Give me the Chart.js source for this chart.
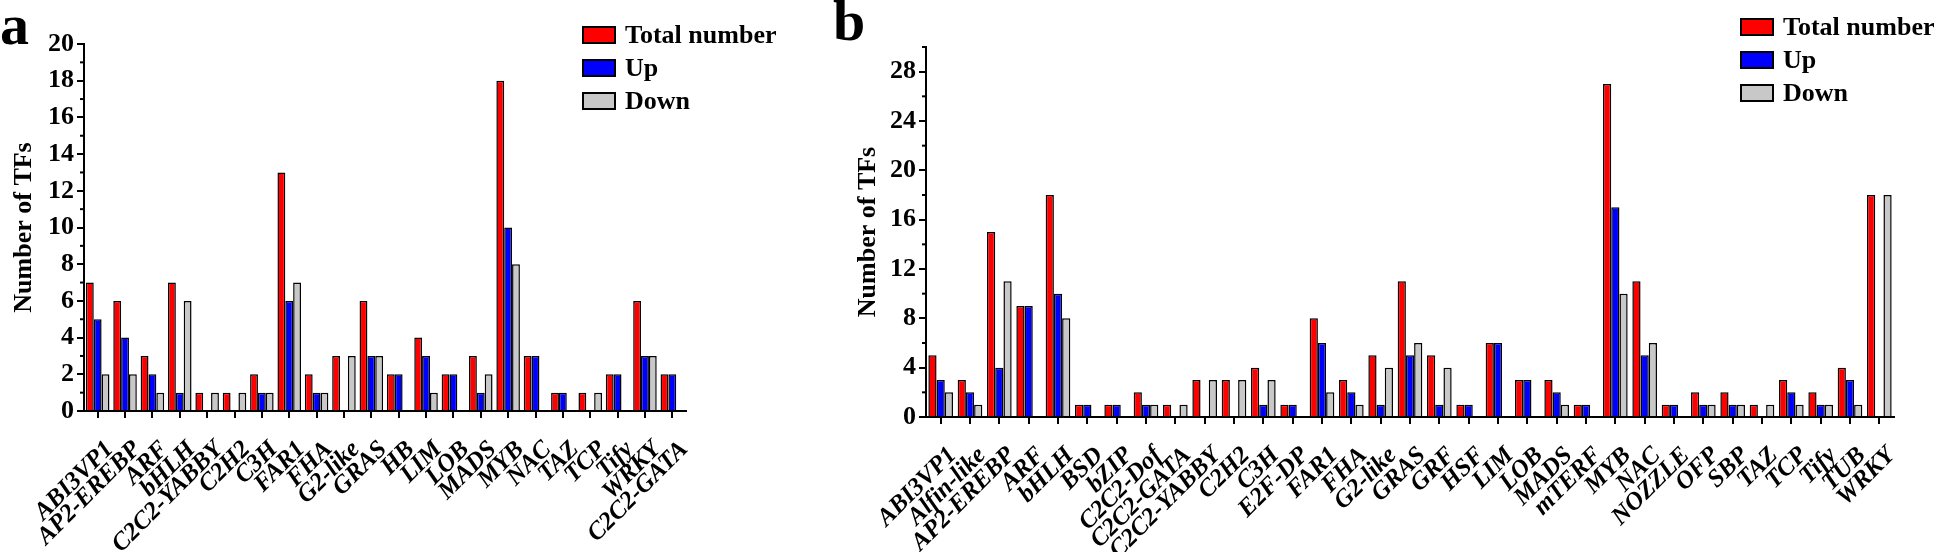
<!DOCTYPE html>
<html lang="en">
<head>
<meta charset="UTF-8">
<title>Differentially expressed TF families</title>
<script src="https://cdn.jsdelivr.net/npm/chart.js"></script>
<style>
  html, body { margin: 0; padding: 0; background: #fff; }
  body { width: 1946px; height: 552px; position: relative; overflow: hidden; font-family: "Liberation Serif", "Times New Roman", serif; }
  canvas { position: absolute; top: 0; }
  #chartA { left: 0; }
  #chartB { left: 800px; }
  .tag { position: absolute; font-weight: bold; font-size: 58px; line-height: 1; }
  .legend { position: absolute; font-weight: bold; font-size: 26px; line-height: 33px; }
  .legend div { height: 33px; display: flex; align-items: center; white-space: nowrap; }
  .legend .box { width: 30px; height: 14px; border: 2px solid #000; margin-right: 9px; }
</style>
</head>
<body>
<canvas id="chartA" width="800" height="552"></canvas>
<canvas id="chartB" width="1146" height="552"></canvas>
<div class="tag" style="left:0;top:-4px">a</div>
<div class="tag" style="left:833px;top:-8px">b</div>
<div class="legend" id="legendA" style="left:582px;top:18px"></div>
<div class="legend" id="legendB" style="left:1740px;top:10px"></div>
<script>
// panel a
const familiesA = ['ABI3VP1', 'AP2-EREBP', 'ARF', 'bHLH', 'C2C2-YABBY', 'C2H2', 'C3H', 'FAR1', 'FHA', 'G2-like', 'GRAS',
  'HB', 'LIM', 'LOB', 'MADS', 'MYB', 'NAC', 'TAZ', 'TCP', 'Tify', 'WRKY', 'C2C2-GATA'];
const totalA = [7, 6, 3, 7, 1, 1, 2, 13, 2, 3, 6, 2, 4, 2, 3, 18, 3, 1, 1, 2, 6, 2];
const upA    = [5, 4, 2, 1, 0, 0, 1, 6, 1, 0, 3, 2, 3, 2, 1, 10, 3, 1, 0, 2, 3, 2];
const downA  = [2, 2, 1, 6, 1, 1, 1, 7, 1, 3, 3, 0, 1, 0, 2, 8, 0, 0, 1, 0, 3, 0];

// panel b
const familiesB = ['ABI3VP1', 'Alfin-like', 'AP2-EREBP', 'ARF', 'bHLH', 'BSD', 'bZIP', 'C2C2-Dof', 'C2C2-GATA', 'C2C2-YABBY',
  'C2H2', 'C3H', 'E2F-DP', 'FAR1', 'FHA', 'G2-like', 'GRAS', 'GRF', 'HSF', 'LIM', 'LOB', 'MADS', 'mTERF', 'MYB', 'NAC',
  'NOZZLE', 'OFP', 'SBP', 'TAZ', 'TCP', 'Tify', 'TUB', 'WRKY'];
const totalB = [5, 3, 15, 9, 18, 1, 1, 2, 1, 3, 3, 4, 1, 8, 3, 5, 11, 5, 1, 6, 3, 3, 1, 27, 11, 1, 2, 2, 1, 3, 2, 4, 18];
const upB    = [3, 2, 4, 9, 10, 1, 1, 1, 0, 0, 0, 1, 1, 6, 2, 1, 5, 1, 1, 6, 3, 2, 1, 17, 5, 1, 1, 1, 0, 2, 1, 3, 0];
const downB  = [2, 1, 11, 0, 8, 0, 0, 1, 1, 3, 3, 3, 0, 2, 1, 4, 6, 4, 0, 0, 0, 1, 0, 10, 6, 0, 1, 1, 1, 1, 1, 1, 18];

const seriesNames = ['Total number', 'Up', 'Down'];
const seriesColors = ['#ff0000', '#0000ff', '#c8c8c8'];

const yMaxA = 20, yStepA = 2;
const yMaxB = 30, yStepB = 4;

Chart.defaults.font.family = '"Liberation Serif", "Times New Roman", serif';
Chart.defaults.color = '#000';

// small ticks halfway between the labelled ones
const minorTicks = {
  id: 'minorTicks',
  afterDraw(chart, args, opts) {
    const y = chart.scales.y;
    const ctx = chart.ctx;
    ctx.save();
    ctx.strokeStyle = '#000';
    ctx.lineWidth = 2;
    for (let v = opts.step / 2; v <= y.max; v += opts.step) {
      const py = y.getPixelForValue(v);
      ctx.beginPath();
      ctx.moveTo(y.right - 4, py);
      ctx.lineTo(y.right, py);
      ctx.stroke();
    }
    ctx.restore();
  }
};

function makeChart(id, labels, total, up, down, box) {
  const values = [total, up, down];
  return new Chart(document.getElementById(id), {
    type: 'bar',
    data: {
      labels: labels,
      datasets: values.map((v, i) => ({
        label: seriesNames[i],
        data: v,
        backgroundColor: seriesColors[i],
        borderColor: '#000',
        borderWidth: 1.5,
        borderSkipped: 'start',
        categoryPercentage: box.catPct,
        barPercentage: 1.0
      }))
    },
    options: {
      responsive: false,
      animation: false,
      layout: { padding: { left: 0, top: box.top, right: box.right, bottom: 0 } },
      plugins: { legend: { display: false }, tooltip: { enabled: false }, minorTicks: { step: box.step } },
      scales: {
        x: {
          offset: true,
          afterFit: s => { s.height = box.xHeight; },
          grid: { offset: false, drawOnChartArea: false, drawTicks: true, tickLength: 7, color: '#000', lineWidth: 2 },
          border: { display: true, color: '#000', width: 2 },
          ticks: {
            autoSkip: false, minRotation: 45, maxRotation: 45, padding: 17, labelOffset: 12,
            font: { size: 25, weight: 'bold', style: 'italic' }
          }
        },
        y: {
          min: 0,
          max: box.max,
          afterFit: s => { s.width = box.yWidth; },
          afterBuildTicks: s => {
            const t = [];
            for (let v = 0; v <= box.max; v += box.step) t.push({ value: v });
            s.ticks = t;
          },
          grid: { drawOnChartArea: false, drawTicks: true, tickLength: 7, color: '#000', lineWidth: 2 },
          border: { display: true, color: '#000', width: 2 },
          ticks: { stepSize: box.step, padding: 3, font: { size: 26, weight: 'bold' } },
          title: {
            display: true, text: 'Number of TFs',
            font: { size: 26, weight: 'bold' },
            padding: { top: box.titlePad, bottom: 0 }
          }
        }
      }
    },
    plugins: [minorTicks]
  });
}

makeChart('chartA', familiesA, totalA, upA, downA,
  { top: 44, right: 114, xHeight: 141, yWidth: 84, max: yMaxA, step: yStepA, catPct: 0.86, titlePad: 9 });
makeChart('chartB', familiesB, totalB, upB, downB,
  { top: 47, right: 52, xHeight: 135, yWidth: 126, max: yMaxB, step: yStepB, catPct: 0.84, titlePad: 53 });

function fillLegend(id) {
  const el = document.getElementById(id);
  seriesNames.forEach((name, i) => {
    const row = document.createElement('div');
    const sw = document.createElement('span');
    sw.className = 'box';
    sw.style.background = seriesColors[i];
    row.appendChild(sw);
    row.appendChild(document.createTextNode(name));
    el.appendChild(row);
  });
}
fillLegend('legendA');
fillLegend('legendB');
</script>
</body>
</html>
